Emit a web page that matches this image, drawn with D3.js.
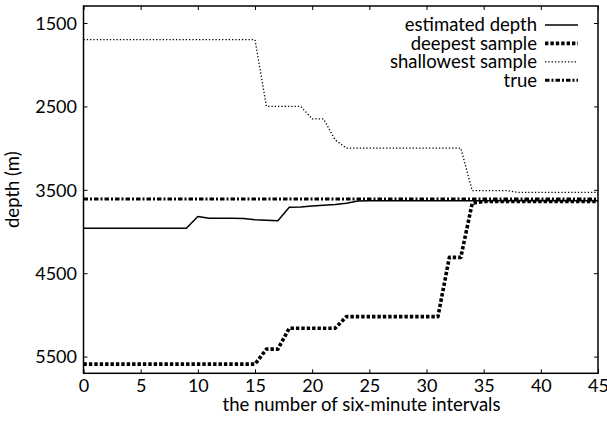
<!DOCTYPE html>
<html><head><meta charset="utf-8">
<script src="https://cdn.jsdelivr.net/npm/d3@7"></script>
<style>body{margin:0;background:#fff}svg{display:block}text{font-family:Lato,"Open Sans",sans-serif;fill:#000}</style>
</head><body>
<svg id="c" width="607" height="423"></svg>
<script>
const intervals = d3.range(0, 46);
const estimatedDepth = [3960,3960,3960,3960,3960,3960,3960,3960,3960,3960,
  3820,3840,3840,3840,3845,3860,3865,3870,3710,3705,
  3695,3685,3675,3660,3635,3630,3630,3630,3630,3630,
  3630,3630,3630,3630,3630,3630,3630,3630,3630,3630,
  3630,3630,3630,3630,3630,3630];
const deepestSample = [5590,5590,5590,5590,5590,5590,5590,5590,5590,5590,
  5590,5590,5590,5590,5590,5590,5410,5410,5160,5160,
  5160,5160,5160,5020,5020,5020,5020,5020,5020,5020,
  5020,5020,4310,4310,3660,3640,3640,3640,3640,3640,
  3640,3640,3640,3640,3640,3640];
const shallowestSample = [1700,1700,1700,1700,1700,1700,1700,1700,1700,1700,
  1700,1700,1700,1700,1700,1700,2500,2500,2500,2500,
  2650,2650,2900,3000,3000,3000,3000,3000,3000,3000,
  3000,3000,3000,3000,3510,3510,3510,3510,3530,3530,
  3530,3530,3530,3530,3530,3530];
const trueDepth = intervals.map(() => 3610);
const xTicks = [0,5,10,15,20,25,30,35,40,45];
const yTicks = [1500,2500,3500,4500,5500];

const series = [
  {name:"estimated depth", values:estimatedDepth, w:1.5, dash:null},
  {name:"deepest sample", values:deepestSample, w:3.6, dash:"3.4,2"},
  {name:"shallowest sample", values:shallowestSample, w:1.3, dash:"1.3,2"},
  {name:"true", values:trueDepth, w:3, dash:"4.5,2,2,2"}
];

const svg = d3.select("#c");
const L = 83.5, R = 598, T = 6, B = 373.3;
const x = d3.scaleLinear().domain([0,45]).range([L,R]);
const y = d3.scaleLinear().domain([1296,5700]).range([T,B]);

const fs = 18, fl = 18.5;
const fmt = d3.format("d");
const gx = svg.append("g").attr("transform",`translate(0,${B})`)
  .call(d3.axisBottom(x).tickValues(xTicks).tickFormat(fmt).tickSizeInner(-4).tickSizeOuter(0).tickPadding(6));
const gxt = svg.append("g").attr("transform",`translate(0,${T})`)
  .call(d3.axisTop(x).tickValues(xTicks).tickSizeInner(-4).tickSizeOuter(0).tickFormat(""));
const gy = svg.append("g").attr("transform",`translate(${L},0)`)
  .call(d3.axisLeft(y).tickValues(yTicks).tickFormat(fmt).tickSizeInner(-4).tickSizeOuter(0).tickPadding(6.5));
const gyr = svg.append("g").attr("transform",`translate(${R},0)`)
  .call(d3.axisRight(y).tickValues(yTicks).tickSizeInner(-4).tickSizeOuter(0).tickFormat(""));
[gx,gxt,gy,gyr].forEach(g=>{
  g.select(".domain").remove();
  g.selectAll("line").attr("stroke","#000").attr("stroke-width",1);
  g.selectAll("text").style("font-family","Lato,sans-serif").style("font-size",fs+"px").attr("fill","#000");
});
gy.selectAll("text").attr("dy","0.35em");

svg.append("rect").attr("x",L).attr("y",T).attr("width",R-L).attr("height",B-T)
  .attr("fill","none").attr("stroke","#000").attr("stroke-width",1.5);

svg.append("clipPath").attr("id","pc").append("rect")
  .attr("x",L).attr("y",T).attr("width",R-L).attr("height",B-T);

const line = d3.line().x((d,i)=>x(intervals[i])).y(d=>y(d));
const plot = svg.append("g").attr("clip-path","url(#pc)");
series.forEach(s=>{
  plot.append("path").attr("d",line(s.values)).attr("fill","none")
    .attr("stroke","#000").attr("stroke-width",s.w)
    .attr("stroke-dasharray",s.dash).attr("stroke-linejoin","round");
});

const lg = svg.append("g");
series.forEach((s,i)=>{
  const yy = 25 + i*18.4;
  lg.append("text").attr("x",537).attr("y",yy).attr("dy","0.35em")
    .attr("text-anchor","end").style("font-size",fl+"px").text(s.name);
  lg.append("line").attr("x1",545).attr("x2",578).attr("y1",yy).attr("y2",yy)
    .attr("stroke","#000").attr("stroke-width",s.w).attr("stroke-dasharray",s.dash);
});

svg.append("text").attr("x",361.5).attr("y",411).attr("text-anchor","middle")
  .style("font-size",fl+"px").text("the number of six-minute intervals");
svg.append("text").attr("transform",`translate(19,${(T+B)/2}) rotate(-90)`)
  .attr("text-anchor","middle").style("font-size",fl+"px").text("depth (m)");
</script>
</body></html>
